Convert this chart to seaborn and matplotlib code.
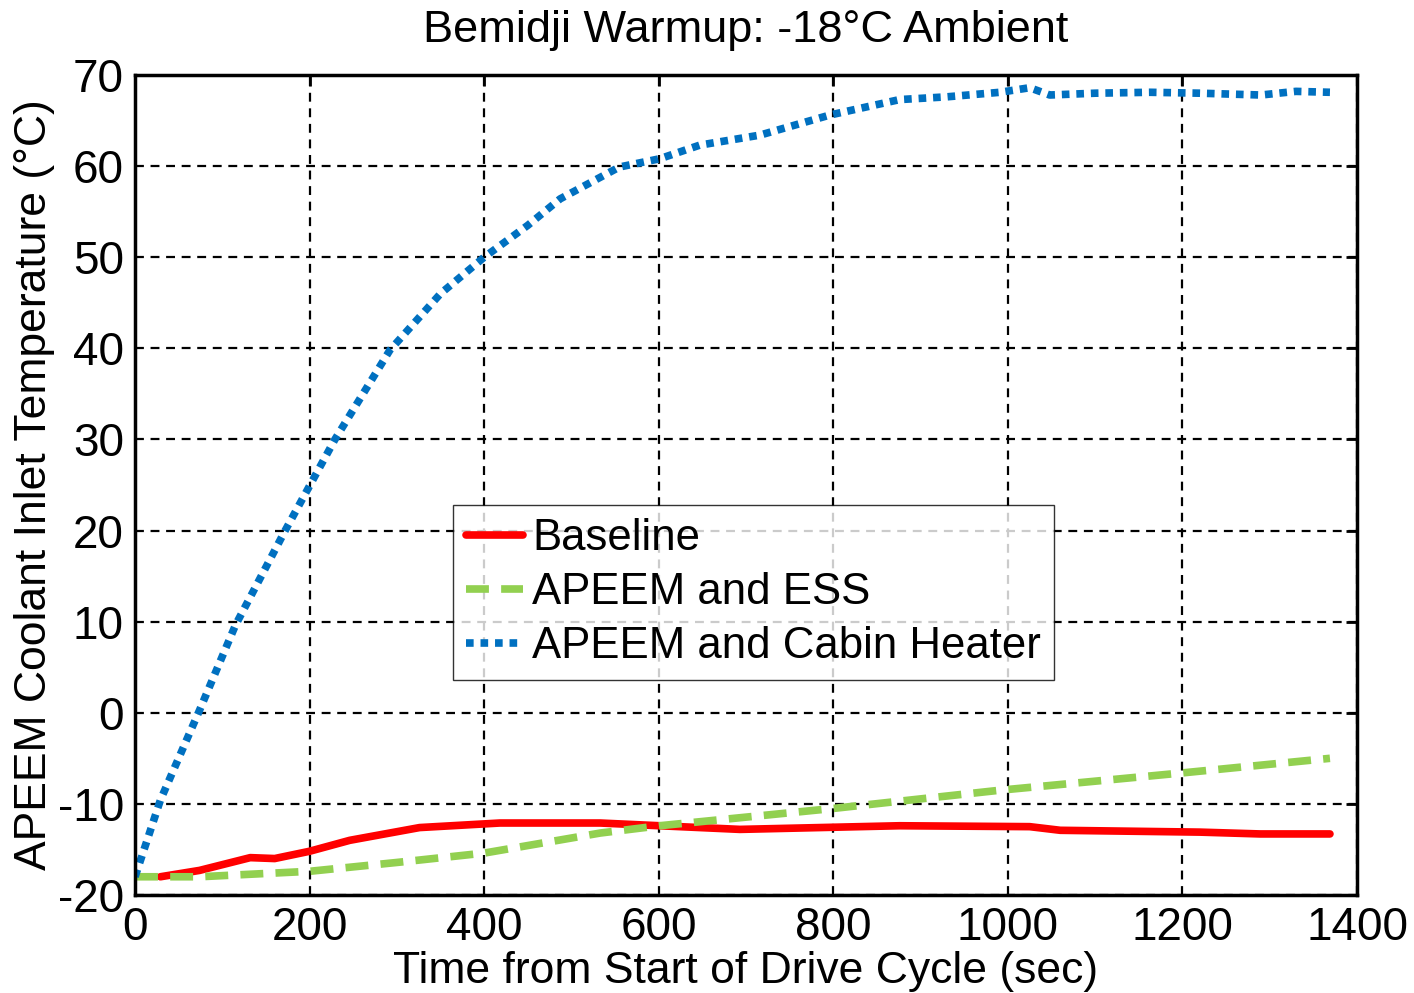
import matplotlib
matplotlib.use("Agg")
import matplotlib.pyplot as plt
import seaborn as sns
import pandas as pd

# Datos (tiempo en s, temperatura en °C)
t_cabina = [0, 29, 74, 115, 172, 229, 292, 350, 400, 450, 487, 555, 601, 647, 716, 796, 876, 930, 991, 1025, 1048, 1100, 1163, 1220, 1290, 1330, 1369]
temp_cabina = [-18, -9.6, 0.3, 9.6, 20, 30, 39.8, 46, 50, 53.5, 56.4, 59.9, 60.8, 62.3, 63.4, 65.6, 67.3, 67.6, 68.1, 68.6, 67.8, 68.0, 68.1, 68.0, 67.8, 68.2, 68.1]

t_base = [29, 74, 132, 160, 200, 246, 326, 418, 533, 601, 693, 876, 1025, 1060, 1220, 1289, 1369]
temp_base = [-18, -17.3, -15.9, -16, -15.2, -14, -12.6, -12.1, -12.1, -12.4, -12.8, -12.4, -12.5, -12.9, -13.1, -13.3, -13.3]

t_ess = [0, 74, 200, 303, 400, 533, 601, 800, 991, 1200, 1369]
temp_ess = [-18, -18, -17.4, -16.4, -15.4, -13.2, -12.4, -10.5, -8.5, -6.6, -5.0]

series = [
    ("Baseline", t_base, temp_base, "#FF0000", None),
    ("APEEM and ESS", t_ess, temp_ess, "#92D050", (3, 1.6)),
    ("APEEM and Cabin Heater", t_cabina, temp_cabina, "#0070C0", (1, 0.9)),
]

sns.set_style("white")
plt.rcParams["font.family"] = ["Liberation Sans", "DejaVu Sans"]
plt.rcParams["axes.unicode_minus"] = False
plt.rcParams["text.color"] = "black"
plt.rcParams["axes.labelcolor"] = "black"
plt.rcParams["xtick.color"] = "black"
plt.rcParams["ytick.color"] = "black"

fig = plt.figure(figsize=(14.14, 9.93), dpi=100)
ax = fig.add_axes([0.0955, 0.0987, 0.8642, 0.8258])

for nombre, t, temp, color, dash in series:
    df = pd.DataFrame({"t": t, "temp": temp})
    sns.lineplot(data=df, x="t", y="temp", ax=ax, color=color, lw=5.5, label=nombre)
    if dash is not None:
        ax.lines[-1].set_dashes(dash)

ax.set_xlim(0, 1400)
ax.set_ylim(-20, 70)
ax.set_xticks(range(0, 1401, 200))
ax.set_yticks(range(-20, 71, 10))
ax.grid(True, color="black", linestyle=(0, (4, 3)), linewidth=1.6)
ax.tick_params(direction="in", length=8, width=2, labelsize=33, top=True, right=True, pad=8)
for s in ax.spines.values():
    s.set_linewidth(2.5)
    s.set_color("black")

ax.set_title("Bemidji Warmup: -18°C Ambient", fontsize=32.5, pad=24)
ax.set_xlabel("Time from Start of Drive Cycle (sec)", fontsize=32, labelpad=1)
ax.set_ylabel("APEEM Coolant Inlet Temperature (°C)", fontsize=32, labelpad=2)

leg = ax.legend(loc="upper left", bbox_to_anchor=(0.2605, 0.4756), fontsize=31.5, frameon=True,
                fancybox=False, edgecolor="black", handlelength=1.3, handletextpad=0.2,
                borderpad=0.3, labelspacing=0.3, borderaxespad=0)
leg.get_frame().set_linewidth(1.0)

fig.savefig("out.png", dpi=100)
